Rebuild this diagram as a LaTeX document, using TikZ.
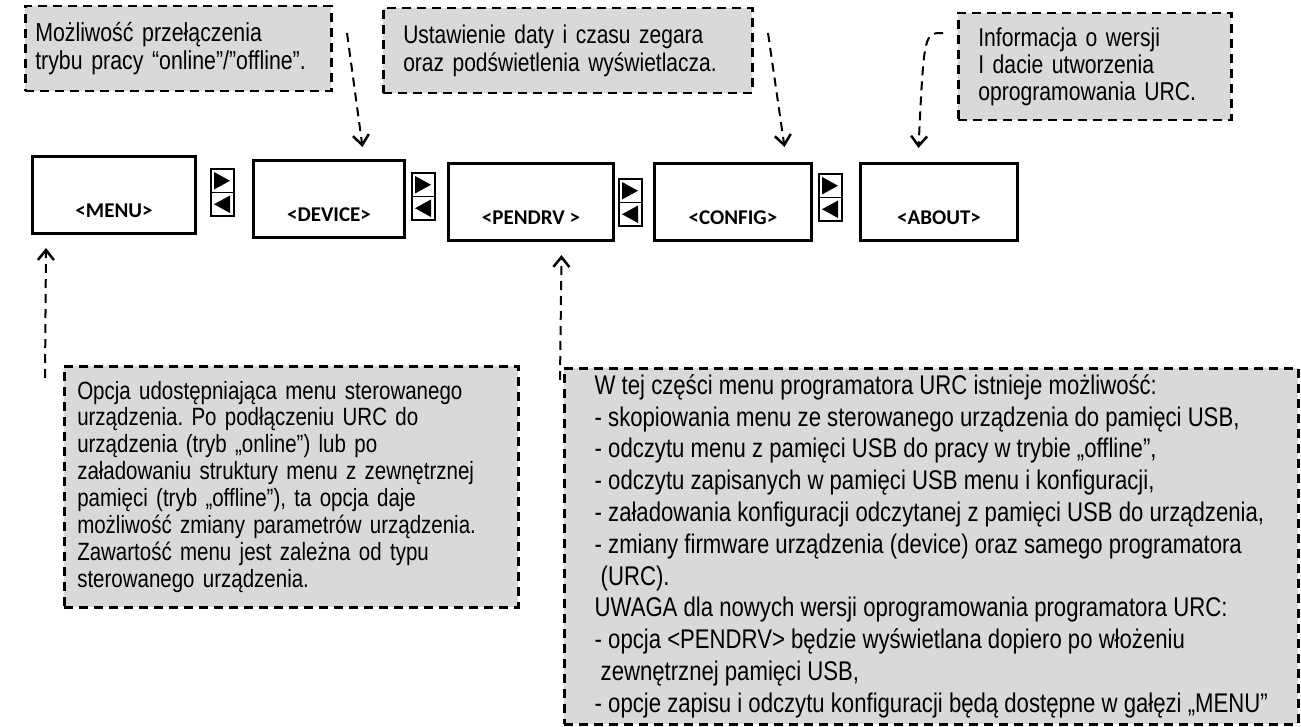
\documentclass[tikz,border=0pt]{standalone}
\usepackage{fontspec}
\setmainfont{Liberation Sans}[FakeStretch=0.82]
\newfontfamily\screenfont{Carlito}
\usepackage{tikz}
\usetikzlibrary{arrows.meta}
\definecolor{notegray}{HTML}{D9D9D9}
\frenchspacing

\begin{document}
\begin{tikzpicture}[x=1pt,y=-1pt,
    note/.style={draw, fill=notegray, line width=2.5pt, dash pattern=on 9pt off 6pt,
        anchor=north west, align=left, inner sep=0pt},
    screen/.style={draw, line width=3pt, anchor=north west, inner sep=0pt, minimum height=77pt},
    screenlabel/.style={font=\screenfont\bfseries\fontsize{21}{23}\selectfont},
    callout/.style={line width=2pt, dash pattern=on 9pt off 6pt,
        -{Straight Barb[length=10pt,width=16pt,line width=2.5pt]}}]
    \useasboundingbox (0,0) rectangle (1301,727);

    % opisy
    \node[note, minimum width=306pt, minimum height=85pt, text width=286pt,
        font=\fontsize{26}{28}\selectfont] (online) at (24,5)
        {Możliwość przełączenia\\trybu pracy “online”/”offline”.};
    \node[note, minimum width=369pt, minimum height=85pt, text width=329pt,
        font=\fontsize{25.6}{28}\selectfont] (clock) at (382,7)
        {Ustawienie daty i czasu zegara\\oraz podświetlenia wyświetlacza.};
    \node[note, minimum width=273pt, minimum height=107pt, text width=233pt,
        font=\fontsize{25.8}{27}\selectfont] (version) at (957,12)
        {Informacja o wersji\\I dacie utworzenia\\oprogramowania URC.};
    \node[note, minimum width=454pt, minimum height=241pt, text width=428pt,
        font=\fontsize{25}{26.9}\selectfont] (menuinfo) at (63,365)
        {Opcja udostępniająca menu sterowanego\\
         urządzenia. Po podłączeniu URC do\\
         urządzenia (tryb „online”) lub po\\
         załadowaniu struktury menu z zewnętrznej\\
         pamięci (tryb „offline”), ta opcja daje\\
         możliwość zmiany parametrów urządzenia.\\
         Zawartość menu jest zależna od typu\\
         sterowanego urządzenia.};
    \node[note, minimum width=734pt, minimum height=356pt,
        font=\fontsize{27}{31.8}\selectfont] (usbinfo) at (563,367)
        {W tej części menu programatora URC istnieje możliwość:\\
         - skopiowania menu ze sterowanego urządzenia do pamięci USB,\\
         - odczytu menu z pamięci USB do pracy w trybie „offline”,\\
         - odczytu zapisanych w pamięci USB menu i konfiguracji,\\
         - załadowania konfiguracji odczytanej z pamięci USB do urządzenia,\\
         - zmiany firmware urządzenia (device) oraz samego programatora\\
         \hspace*{6pt}(URC).\\
         UWAGA dla nowych wersji oprogramowania programatora URC:\\
         - opcja <PENDRV> będzie wyświetlana dopiero po włożeniu\\
         \hspace*{6pt}zewnętrznej pamięci USB,\\
         - opcje zapisu i odczytu konfiguracji będą dostępne w gałęzi „MENU”};

    % ekrany
    \node[screen, minimum width=163pt] (menu) at (31,155) {};
    \node[screen, minimum width=151pt] (device) at (252,159) {};
    \node[screen, minimum width=165pt] (pendrv) at (447,162) {};
    \node[screen, minimum width=157pt] (config) at (653,162) {};
    \node[screen, minimum width=157pt] (about) at (859,162) {};
    \node[screenlabel] (menulbl) at ([yshift=24pt]menu.south) {<MENU>};
    \node[screenlabel] (devicelbl) at ([yshift=24pt]device.south) {<DEVICE>};
    \node[screenlabel] (pendrvlbl) at ([yshift=24pt]pendrv.south) {<PENDRV >};
    \node[screenlabel] (configlbl) at ([yshift=24pt]config.south) {<CONFIG>};
    \node[screenlabel] (aboutlbl) at ([yshift=24pt]about.south) {<ABOUT>};

    % przyciski
    \foreach \bx/\by in {211/169, 412/173, 619/179, 819/174} {
        \draw[line width=1.5pt] (\bx,\by) rectangle ++(23,23.5);
        \draw[line width=1.5pt] (\bx,\by+23.5) rectangle ++(23,23.5);
        \fill (\bx+3,\by+3) -- (\bx+19,\by+11.75) -- (\bx+3,\by+20.5) -- cycle;
        \fill (\bx+19,\by+26.5) -- (\bx+3,\by+35.25) -- (\bx+19,\by+44) -- cycle;
    }

    % strzalki
    \coordinate (fromonline) at (347,33);
    \coordinate (fromclock) at (768,33);
    \coordinate (fromversion) at (943,33);
    \coordinate (frommenuinfo) at (45,378);
    \coordinate (fromusbinfo) at (560,380);
    \draw[callout] (fromonline) -- ([shift={(33.5,-12)}]device.north);
    \draw[callout] (fromclock) -- ([shift={(51.5,-15)}]config.north);
    \draw[callout] (fromversion) .. controls (924,33) .. ([shift={(-20.5,-14)}]about.north);
    \draw[callout] (frommenuinfo) -- ([shift={(-68,13)}]menu.south);
    \draw[callout] (fromusbinfo) -- ([shift={(30.5,13)}]pendrv.south);
\end{tikzpicture}
\end{document}
